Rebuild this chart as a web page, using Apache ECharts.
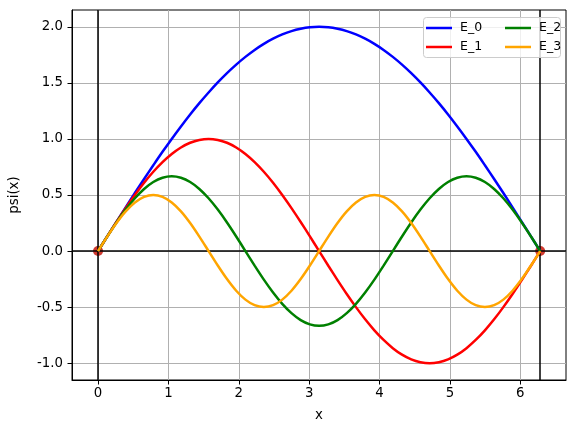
<!DOCTYPE html>
<html>
<head>
<meta charset="utf-8">
<script src="https://cdn.jsdelivr.net/npm/echarts@6/dist/echarts.min.js"></script>
<style>html,body{margin:0;padding:0;background:#fff;}#c{width:576px;height:430px;}</style>
</head>
<body>
<div id="c"></div>
<script>
var xs = [0, 0.1309, 0.2618, 0.3927, 0.5236, 0.6545, 0.7854, 0.9163, 1.0472, 1.1781, 1.3090, 1.4399, 1.5708, 1.7017, 1.8326, 1.9635, 2.0944, 2.2253, 2.3562, 2.4871, 2.6180, 2.7489, 2.8798, 3.0107, 3.1416, 3.2725, 3.4034, 3.5343, 3.6652, 3.7961, 3.9270, 4.0579, 4.1888, 4.3197, 4.4506, 4.5815, 4.7124, 4.8433, 4.9742, 5.1051, 5.2360, 5.3669, 5.4978, 5.6287, 5.7596, 5.8905, 6.0214, 6.1523, 6.2832];
var E0 = [0, 0.131, 0.261, 0.390, 0.518, 0.643, 0.765, 0.885, 1.000, 1.111, 1.218, 1.319, 1.414, 1.504, 1.587, 1.663, 1.732, 1.794, 1.848, 1.894, 1.932, 1.962, 1.983, 1.996, 2.000, 1.996, 1.983, 1.962, 1.932, 1.894, 1.848, 1.794, 1.732, 1.663, 1.587, 1.504, 1.414, 1.319, 1.218, 1.111, 1.000, 0.885, 0.765, 0.643, 0.518, 0.390, 0.261, 0.131, 0];
var E1 = [0, 0.131, 0.259, 0.383, 0.500, 0.609, 0.707, 0.793, 0.866, 0.924, 0.966, 0.991, 1.000, 0.991, 0.966, 0.924, 0.866, 0.793, 0.707, 0.609, 0.500, 0.383, 0.259, 0.131, 0, -0.131, -0.259, -0.383, -0.500, -0.609, -0.707, -0.793, -0.866, -0.924, -0.966, -0.991, -1.000, -0.991, -0.966, -0.924, -0.866, -0.793, -0.707, -0.609, -0.500, -0.383, -0.259, -0.131, 0];
var E2 = [0, 0.130, 0.255, 0.370, 0.471, 0.554, 0.616, 0.654, 0.667, 0.654, 0.616, 0.554, 0.471, 0.370, 0.255, 0.130, 0, -0.130, -0.255, -0.370, -0.471, -0.554, -0.616, -0.654, -0.667, -0.654, -0.616, -0.554, -0.471, -0.370, -0.255, -0.130, 0, 0.130, 0.255, 0.370, 0.471, 0.554, 0.616, 0.654, 0.667, 0.654, 0.616, 0.554, 0.471, 0.370, 0.255, 0.130, 0];
var E3 = [0, 0.129, 0.250, 0.354, 0.433, 0.483, 0.500, 0.483, 0.433, 0.354, 0.250, 0.129, 0, -0.129, -0.250, -0.354, -0.433, -0.483, -0.500, -0.483, -0.433, -0.354, -0.250, -0.129, 0, 0.129, 0.250, 0.354, 0.433, 0.483, 0.500, 0.483, 0.433, 0.354, 0.250, 0.129, 0, -0.129, -0.250, -0.354, -0.433, -0.483, -0.500, -0.483, -0.433, -0.354, -0.250, -0.129, 0];
var seriesNames = ['E_0', 'E_1', 'E_2', 'E_3'];
var wallPoints = [[0, 0], [6.2832, 0]];
var vLines = [0, 6.2832];
var hLines = [0];
var xTicks = [0, 1, 2, 3, 4, 5, 6];
var yTicks = [-1.0, -0.5, 0.0, 0.5, 1.0, 1.5, 2.0];

var colors = ['#0000ff', '#ff0000', '#008000', '#ffa500'];
var font = 'DejaVu Sans';
var fs = 13.3;
var allY = [E0, E1, E2, E3];

function pairs(ys) { return xs.map(function (x, i) { return [x, ys[i]]; }); }

var series = allY.map(function (ys, i) {
  return {
    name: seriesNames[i], type: 'line', data: pairs(ys), smooth: 0.3,
    symbol: 'none', z: 5,
    lineStyle: { color: colors[i], width: 2.5 }, itemStyle: { color: colors[i] }
  };
});
var mlData = vLines.map(function (v) { return { xAxis: v }; }).concat(hLines.map(function (v) { return { yAxis: v }; }));
series.push({
  name: 'walls', type: 'scatter', data: wallPoints, symbolSize: 10, z: 2,
  itemStyle: { color: '#d03a30', opacity: 1 },
  markLine: {
    symbol: 'none', silent: true, animation: false, z: 3,
    label: { show: false },
    lineStyle: { color: '#000', width: 1.5, type: 'solid' },
    data: mlData
  }
});

var chart = echarts.init(document.getElementById('c'), null, { renderer: 'canvas' });
chart.setOption({
  animation: false,
  backgroundColor: '#fff',
  textStyle: { fontFamily: font },
  grid: { left: 70, right: 10, top: 10, bottom: 50, show: true, borderColor: '#000', borderWidth: 1, backgroundColor: 'transparent' },
  xAxis: {
    type: 'value', min: -0.37, max: 6.65,
    name: 'x', nameLocation: 'middle', nameGap: 29,
    nameTextStyle: { color: '#000', fontSize: fs, fontFamily: font },
    axisLine: { show: true, onZero: false, lineStyle: { color: '#000', width: 1 } },
    axisTick: { show: true, length: 4.5, lineStyle: { color: '#000' }, customValues: xTicks },
    axisLabel: { color: '#000', fontSize: fs, fontFamily: font, margin: 7, customValues: xTicks, formatter: function (v) { return String(v); } },
    splitLine: { show: true, lineStyle: { color: '#b0b0b0', width: 1 } }
  },
  yAxis: {
    type: 'value', min: -1.15, max: 2.15,
    name: 'psi(x)', nameLocation: 'middle', nameGap: 51, nameRotate: 90,
    nameTextStyle: { color: '#000', fontSize: fs, fontFamily: font },
    axisLine: { show: true, onZero: false, lineStyle: { color: '#000', width: 1 } },
    axisTick: { show: true, length: 4.5, lineStyle: { color: '#000' }, customValues: yTicks },
    axisLabel: { color: '#000', fontSize: fs, fontFamily: font, margin: 9, customValues: yTicks, formatter: function (v) { return v.toFixed(1); } },
    splitLine: { show: true, lineStyle: { color: '#b0b0b0', width: 1 } }
  },
  legend: {
    type: 'plain', orient: 'vertical', left: 426, top: 21, height: 40, padding: 0,
    itemGap: 5, itemWidth: 26, itemHeight: 2.5, icon: 'rect', z: 20,
    data: seriesNames,
    textStyle: { color: '#000', fontSize: 12.5, fontFamily: font, width: 40, lineHeight: 14, padding: [0, 0, 0, 3] }
  },
  graphic: [{
    type: 'rect', left: 423, top: 17, z: 15,
    shape: { width: 137, height: 40, r: 3 },
    style: { fill: 'rgba(255,255,255,0.8)', stroke: '#cccccc', lineWidth: 1 }
  }],
  series: series
});
</script>
</body>
</html>
